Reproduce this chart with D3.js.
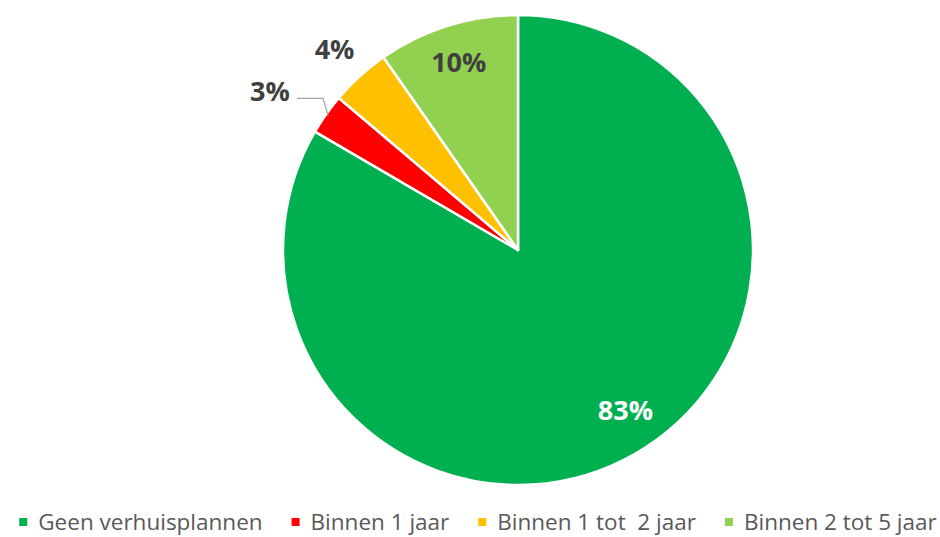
<!DOCTYPE html>
<html><head><meta charset="utf-8">
<script src="https://cdn.jsdelivr.net/npm/d3@7"></script>
<style>html,body{margin:0;padding:0;background:#fff;}</style>
</head><body>
<svg id="chart" width="940" height="537"></svg>
<script>
const categories = ["Geen verhuisplannen", "Binnen 1 jaar", "Binnen 1 tot  2 jaar", "Binnen 2 tot 5 jaar"];
const values = [83.4, 2.8, 4.1, 9.7];
const labels = ["83%", "3%", "4%", "10%"];
const colors = ["#00B050", "#FF0000", "#FFC000", "#92D050"];

const svg = d3.select("#chart");
const W = 940, H = 537;
const cx = 518, cy = 250, R = 235;

const pie = d3.pie().sort(null).value(d => d.v);
const data = pie(values.map((v, i) => ({v, i})));
const arc = d3.arc().innerRadius(0).outerRadius(R);

const g = svg.append("g").attr("transform", `translate(${cx},${cy})`);
g.selectAll("path.slice").data(data).join("path")
  .attr("class", "slice")
  .attr("d", arc)
  .attr("fill", d => colors[d.data.i])
  .attr("stroke", "#fff")
  .attr("stroke-width", 2.5)
  .attr("stroke-linejoin", "round");

const labelR = [0.82, 1.255, 1.16, 0.84];
const labelColor = ["#ffffff", "#404040", "#404040", "#404040"];
data.forEach((d, k) => {
  const mid = (d.startAngle + d.endAngle) / 2;
  let ang = mid;
  if (k === 1) ang = mid - 0.044;
  if (k === 0) ang = mid - 0.07;
  const r = R * labelR[k];
  const x = Math.sin(ang) * r, y = -Math.cos(ang) * r;
  g.append("text")
    .attr("x", x).attr("y", y)
    .attr("text-anchor", "middle")
    .attr("dominant-baseline", "central")
    .attr("font-family", "'Open Sans', sans-serif")
    .attr("font-weight", "bold")
    .attr("font-size", 27)
    .attr("fill", labelColor[k])
    .text(labels[k]);
  if (k === 1) {
    const ex = Math.sin(mid) * (R * 0.99), ey = -Math.cos(mid) * (R * 0.99);
    const sx = x + 27, sy = y + 8;
    g.append("path")
      .attr("d", `M${sx},${sy}L${ex - 5},${sy}L${ex},${ey}`)
      .attr("fill", "none")
      .attr("stroke", "#a6a6a6")
      .attr("stroke-width", 1.3);
  }
});

// legend
const lg = svg.append("g").attr("transform", `translate(0,${521})`);
const items = lg.selectAll("g").data(categories).join("g");
items.append("rect").attr("width", 8).attr("height", 8).attr("y", -3)
  .attr("fill", (d, i) => colors[i]);
items.append("text").attr("x", 19).attr("y", 0)
  .attr("dominant-baseline", "central")
  .attr("font-family", "'Open Sans', sans-serif")
  .attr("font-size", 22.5)
  .attr("fill", "#595959")
  .style("white-space", "pre")
  .text(d => d);
let widths = [];
items.each(function() { widths.push(this.querySelector("text").getComputedTextLength() + 19); });
const gap = 29;
const total = d3.sum(widths) + gap * (widths.length - 1);
let xpos = (W - total) / 2 + 8;
items.attr("transform", (d, i) => { const t = `translate(${xpos},0)`; xpos += widths[i] + gap; return t; });
</script>
</body></html>
